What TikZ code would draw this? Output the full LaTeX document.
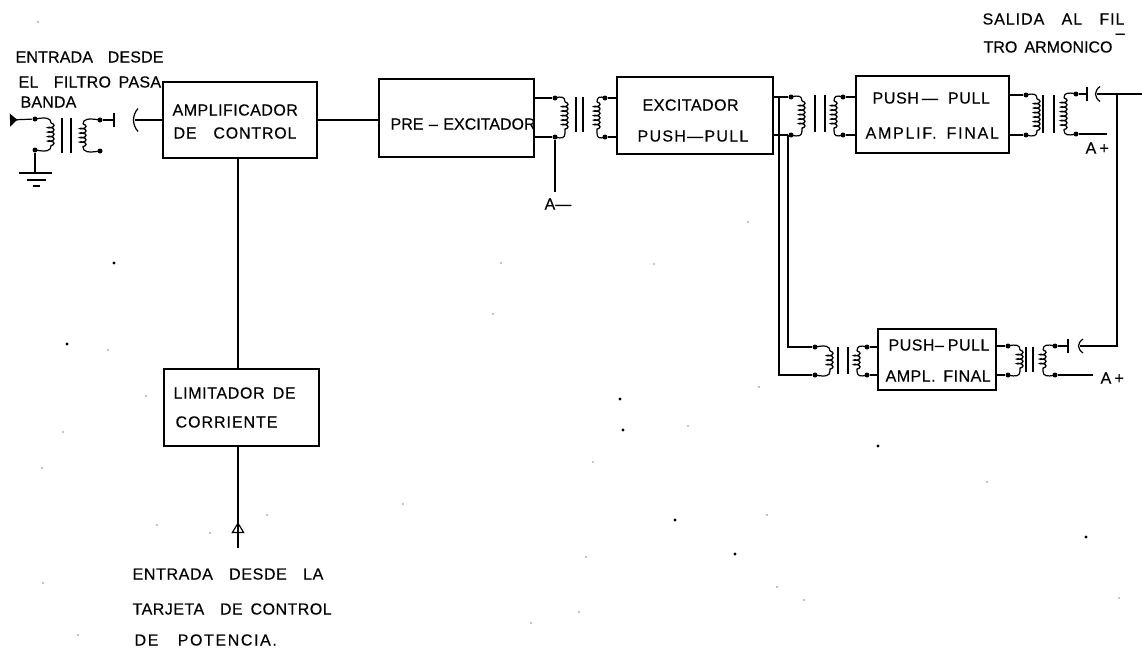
\documentclass[tikz,border=0pt]{standalone}
\usepackage{fontspec}
\setmainfont{Liberation Sans}[FakeBold=.35,WordSpace=1.6]
\usetikzlibrary{arrows.meta, decorations.pathmorphing}

\newcommand{\lblfont}[1]{\fontsize{16}{18}\selectfont\addfontfeature{LetterSpace=#1}}

\tikzset{
  blockbox/.style={draw, line width=1.3pt, inner sep=0pt},
  lbl/.style={anchor=west, inner sep=0pt, font=\lblfont{#1}},
  lbl/.default=0,
  termdot/.style={circle, fill=black, inner sep=0pt, minimum size=5pt},
  pics/winding/.style 2 args={code={
    \node[termdot] (-top) at (0,0) {};
    \node[termdot] (-bot) at (0,#2) {};
    \draw (-top.center) ..controls (#1*.7,-2) and (#1,-1).. (#1,4);
    \draw[decorate, decoration={coil, aspect=.4, segment length=4.5pt, amplitude=3pt}, line width=1.3pt] (#1,4) -- (#1,#2-4);
    \draw (#1,#2-4) ..controls (#1,#2+1) and (#1*.7,#2+2).. (-bot.center);
  }},
  pics/capgap/.style 2 args={code={
    \coordinate (-l) at (0,0);
    \coordinate (-r) at (#1+2,0);
    \draw[line width=1.5pt] (0,-7) -- (0,7);
    \draw (#1+5,-#2) ..controls (#1-1,-#2*.4) and (#1-1,#2*.4).. (#1+5,#2);
  }}
}

\begin{document}
\begin{tikzpicture}[x=1pt, y=-1pt, line width=1.2pt]
  \useasboundingbox (0,0) rectangle (1142,648);

  % bloques
  \node[blockbox, minimum width=154pt, minimum height=76pt] (amp) at (240,120) {};
  \node[blockbox, minimum width=155pt, minimum height=78pt] (pre) at (456.5,118) {};
  \node[blockbox, minimum width=156pt, minimum height=77pt] (exc) at (695,115.5) {};
  \node[blockbox, minimum width=153pt, minimum height=77pt] (fin) at (932.5,114.5) {};
  \node[blockbox, minimum width=118pt, minimum height=61pt] (low) at (937,359.5) {};
  \node[blockbox, minimum width=155pt, minimum height=77pt] (lim) at (241.5,407.5) {};

  % textos
  \node[lbl=3] (lblamp) at (172,110) {AMPLIFICADOR};
  \node[lbl=5] (lblctl) at (173,133) {DE~~CONTROL};
  \node[lbl] (lblpre) at (390,124) {PRE\hspace{5.5pt}--\hspace{5.5pt}EXCITADOR};
  \node[lbl=3] (lblexc) at (642,105) {EXCITADOR};
  \node[lbl=8] (lblpsh) at (637,136) {PUSH---PULL};
  \node[lbl=4] (lblfa) at (872,98) {PUSH\hspace{3pt}---\hspace{10pt}PULL};
  \node[lbl=11] (lblfb) at (865,133) {AMPLIF. FINAL};
  \node[lbl=3] (lbllo) at (888,345) {PUSH--\hspace{4pt}PULL};
  \node[lbl=3] (lbllb) at (885,376) {AMPL. FINAL};
  \node[lbl=4] (lbllim) at (173,393) {LIMITADOR DE};
  \node[lbl=6] (lblcor) at (175,422) {CORRIENTE};
  \node[lbl=1] (lblin) at (15,57) {ENTRADA~~DESDE};
  \node[lbl=2] (lblfil) at (18,82) {EL~~FILTRO PASA};
  \node[lbl=1] (lblban) at (20,102) {BANDA};
  \node[lbl=6] (lblsal) at (982,19) {SALIDA~~AL~~FIL};
  \node[lbl] (lblhy) at (1115,36) {--};
  \node[lbl] (lbltro) at (983,47) {TRO ARMONICO};
  \node[lbl=4] (lblpot) at (132,574) {ENTRADA~~DESDE~~LA};
  \node[lbl=3] (lbltar) at (132,609) {TARJETA~~DE CONTROL};
  \node[lbl=10] (lbldep) at (134,640) {DE~~POTENCIA.};
  \node[lbl] (lblam) at (544,204) {A---};
  \node[lbl=20] (lblap) at (1085,148) {A+};
  \node[lbl=20] (lblaq) at (1100,378) {A+};

  % bobinas
  \pic (tia) at (35,119) {winding={16}{31}};
  \pic (tib) at (100,120) {winding={-17}{31}};
  \pic (tpa) at (555,98) {winding={10}{39}};
  \pic (tpb) at (605,98) {winding={-8}{39}};
  \pic (tea) at (791,97) {winding={11}{38}};
  \pic (teb) at (843,97) {winding={-9}{38}};
  \pic (tfa) at (1026,95) {winding={11}{40}};
  \pic (tfb) at (1076,94) {winding={-12}{40}};
  \pic (tla) at (815,347) {winding={15}{28}};
  \pic (tlb) at (867,347) {winding={-10}{28}};
  \pic (tma) at (1008,346) {winding={12}{29}};
  \pic (tmb) at (1055,346) {winding={-12}{29}};

  % nucleos
  \foreach \x/\t/\b in {62/118/153, 71/118/153, 576/97/132, 583/97/132, 815/95/132, 825/95/132, 1043/95/133, 1054/95/133, 838/347/374, 848/347/374, 1026/347/372, 1033/347/372}
    \draw (\x,\t) -- (\x,\b);

  % acoplamientos
  \pic (cin) at (114,120) {capgap={19}{11.5}};
  \pic (cout) at (1087,94) {capgap={8}{7.5}};
  \pic (clow) at (1068,346) {capgap={10}{7}};

  \coordinate (ant) at (10,120);
  \coordinate (gnd) at (35,173);
  \coordinate (ami) at (553,192);
  \coordinate (exit) at (1142,94);
  \coordinate (apa) at (1107,134);
  \coordinate (apb) at (1093,375);
  \coordinate (limend) at (238,548);
  \coordinate (limtip) at (238,522);
  \coordinate (ret) at (1117,94);
  \coordinate (reb) at (1117,346);

  % entrada
  \draw[{Latex[reversed, length=8pt, width=14pt]}-] (ant) -- (tia-top);
  \draw (tia-bot) -- (gnd);
  \draw[line width=1.5pt] (19,173) -- (52,173);
  \draw[line width=1.5pt] (27,180) -- (46,180);
  \draw[line width=1.5pt] (33,186) -- (40,186);
  \draw (tib-top) -- (cin-l);
  \draw (cin-r) -- (amp.west |- cin-r);

  % cadena superior
  \draw (amp.east) -- (amp.east -| pre.west);
  \draw (pre.east |- tpa-top) -- (tpa-top);
  \draw (pre.east |- tpa-bot) -- (tpa-bot);
  \draw (tpa-bot) -- (tpa-bot |- ami);
  \draw (tpb-top) -- (exc.west |- tpb-top);
  \draw (tpb-bot) -- (exc.west |- tpb-bot);
  \draw (exc.east |- tea-top) -- (tea-top);
  \draw (exc.east |- tea-bot) -- (tea-bot);
  \draw (teb-top) -- (fin.west |- teb-top);
  \draw (teb-bot) -- (fin.west |- teb-bot);
  \draw (fin.east |- tfa-top) -- (tfa-top);
  \draw (fin.east |- tfa-bot) -- (tfa-bot);
  \draw (tfb-top) -- (cout-l);
  \draw (tfb-bot) -- (apa);
  \draw (cout-r) -- (exit);
  \draw (ret) -- (reb) -- (clow-r);

  % ramal inferior
  \draw (779,97) -- (779,375) -- (tla-bot);
  \draw (788,135) -- (788,347) -- (tla-top);
  \draw (tlb-top) -- (low.west |- tlb-top);
  \draw (tlb-bot) -- (low.west |- tlb-bot);
  \draw (low.east |- tma-top) -- (tma-top);
  \draw (low.east |- tma-bot) -- (tma-bot);
  \draw (tmb-top) -- (clow-l);
  \draw (tmb-bot) -- (apb);

  % control
  \draw (amp.south -| 238,0) -- (lim.north -| 238,0);
  \draw (lim.south -| 238,0) -- (limend);
  \draw[-{Triangle[open, length=11pt, width=13pt]}] (limend) -- (limtip);

  % manchas del papel
  \foreach \x/\y in {620/399, 623/430, 675/520, 735/554, 878/446, 1086/537, 114/263, 67/344}
    \fill (\x,\y) circle (1.6pt);
  \foreach \x/\y in {38/22, 748/222, 501/263, 654/264, 493/314, 759/387, 688/426, 593/462, 403/504, 586/557, 579/612, 531/623, 987/482, 767/515, 777/587, 804/600, 1119/598, 108/350, 146/396, 63/432, 42/468, 43/583, 78/635, 267/515, 210/533, 157/525}
    \fill (\x,\y) circle (.7pt);
\end{tikzpicture}
\end{document}
